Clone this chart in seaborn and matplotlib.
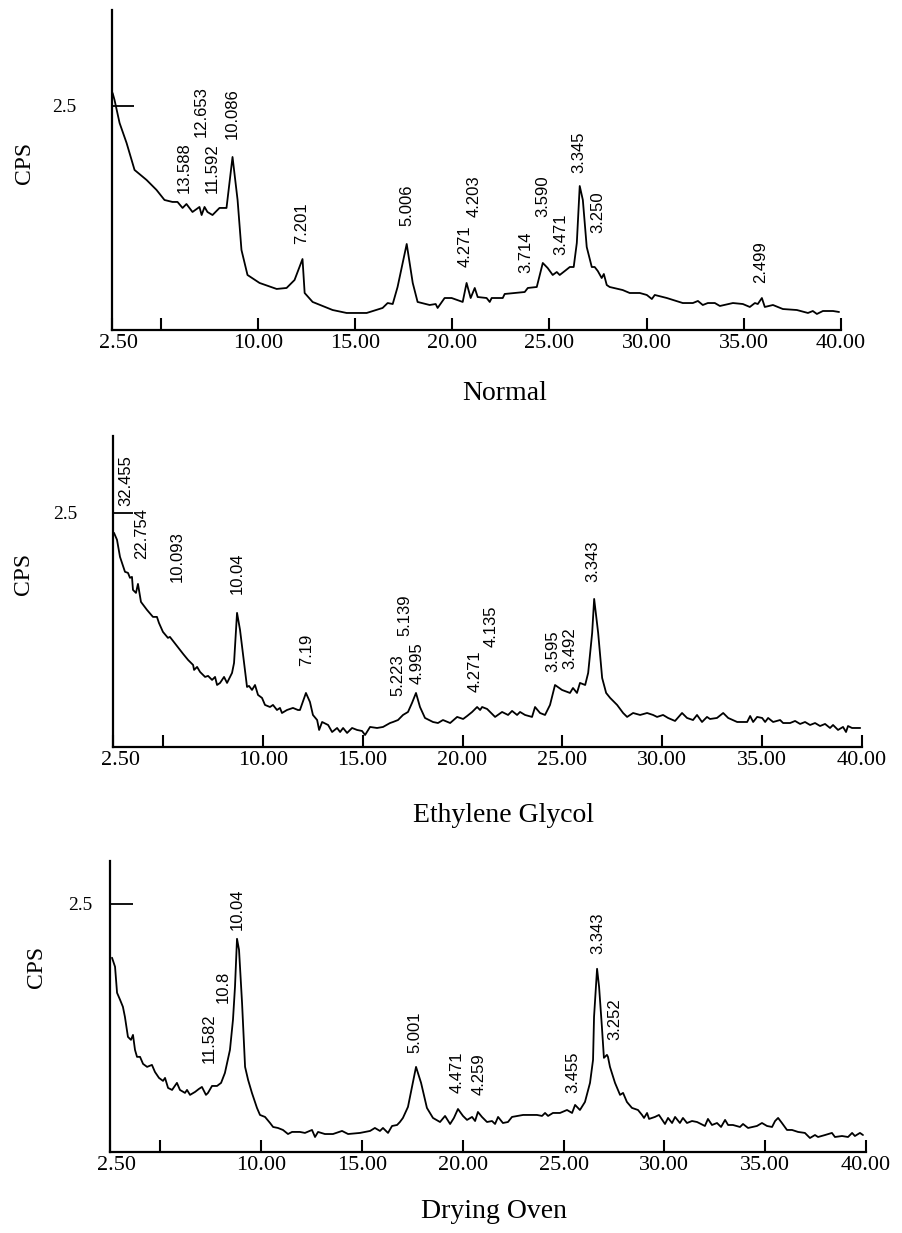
import matplotlib
matplotlib.use("Agg")
import matplotlib.pyplot as plt
import matplotlib.transforms as mtransforms
import pandas as pd
import seaborn as sns

# ---------------------------------------------------------------------------
# X-ray diffraction scans: 2-theta (degrees) vs. intensity (CPS)
# ---------------------------------------------------------------------------
normal_2theta = [
    2.53, 2.63, 2.89, 3.25, 3.66, 4.28, 4.79, 5.20, 5.61, 5.87, 6.13, 6.33, 6.64,
    7.00, 7.11, 7.26, 7.41, 7.67, 8.03, 8.39, 8.70, 8.96, 9.16, 9.47, 10.09, 10.97,
    11.48, 11.89, 12.30, 12.41, 12.82, 13.85, 14.57, 15.60, 16.42, 16.68, 16.94,
    17.19, 17.66, 17.97, 18.22, 18.84, 19.15, 19.25, 19.61, 19.97, 20.54, 20.74,
    20.95, 21.16, 21.31, 21.77, 21.93, 22.03, 22.60, 22.70, 23.73, 23.89, 24.35,
    24.66, 24.91, 25.17, 25.38, 25.53, 25.79, 26.05, 26.25, 26.41, 26.56, 26.72,
    26.92, 27.18, 27.33, 27.49, 27.69, 27.80, 27.95, 28.10, 28.77, 29.13, 29.65,
    30.01, 30.27, 30.42, 31.04, 31.86, 32.38, 32.64, 32.89, 33.15, 33.51, 33.77,
    34.44, 34.95, 35.31, 35.57, 35.72, 35.93, 36.08, 36.50, 37.01, 37.73, 38.30,
    38.55, 38.76, 39.07, 39.59, 39.90,
]
normal_cps = [
    2.645, 2.567, 2.310, 2.087, 1.786, 1.674, 1.563, 1.451, 1.429, 1.429, 1.362,
    1.406, 1.317, 1.373, 1.283, 1.373, 1.317, 1.283, 1.362, 1.362, 1.931, 1.451,
    0.893, 0.614, 0.525, 0.458, 0.469, 0.558, 0.792, 0.413, 0.313, 0.223, 0.190,
    0.190, 0.246, 0.301, 0.290, 0.480, 0.960, 0.525, 0.313, 0.279, 0.290, 0.246,
    0.357, 0.357, 0.313, 0.525, 0.357, 0.469, 0.368, 0.357, 0.313, 0.357, 0.357,
    0.402, 0.424, 0.469, 0.480, 0.748, 0.692, 0.614, 0.647, 0.614, 0.658, 0.703,
    0.703, 0.971, 1.607, 1.451, 0.926, 0.703, 0.703, 0.658, 0.580, 0.625, 0.502,
    0.480, 0.446, 0.413, 0.413, 0.391, 0.346, 0.391, 0.357, 0.301, 0.301, 0.324,
    0.279, 0.301, 0.301, 0.268, 0.301, 0.290, 0.257, 0.301, 0.290, 0.357, 0.257,
    0.279, 0.234, 0.223, 0.190, 0.212, 0.179, 0.212, 0.212, 0.201,
]

glycol_2theta = [
    2.55, 2.70, 2.85, 3.10, 3.25, 3.35, 3.45, 3.50, 3.65, 3.75, 3.90, 4.20, 4.50,
    4.70, 4.80, 5.00, 5.25, 5.35, 5.70, 6.01, 6.26, 6.41, 6.51, 6.56, 6.71, 6.86,
    7.11, 7.26, 7.46, 7.61, 7.71, 7.86, 8.06, 8.21, 8.46, 8.56, 8.71, 8.86, 9.06,
    9.21, 9.31, 9.46, 9.61, 9.76, 9.96, 10.11, 10.36, 10.51, 10.71, 10.86, 10.96,
    11.21, 11.51, 11.76, 11.86, 12.16, 12.36, 12.51, 12.72, 12.82, 12.97, 13.27,
    13.47, 13.72, 13.87, 14.02, 14.22, 14.47, 14.72, 14.97, 15.12, 15.37, 15.72,
    16.02, 16.37, 16.52, 16.77, 17.02, 17.27, 17.47, 17.67, 17.87, 18.12, 18.52,
    18.77, 19.02, 19.38, 19.73, 20.03, 20.23, 20.48, 20.73, 20.88, 20.98, 21.23,
    21.63, 21.98, 22.28, 22.48, 22.73, 22.88, 23.13, 23.48, 23.63, 23.88, 24.13,
    24.38, 24.63, 24.98, 25.38, 25.53, 25.73, 25.88, 26.14, 26.29, 26.49, 26.59,
    26.79, 26.99, 27.19, 27.39, 27.74, 28.04, 28.24, 28.54, 28.89, 29.24, 29.54,
    29.74, 30.04, 30.29, 30.64, 30.99, 31.24, 31.54, 31.74, 31.99, 32.24, 32.39,
    32.74, 33.05, 33.30, 33.75, 34.25, 34.40, 34.55, 34.75, 35.00, 35.15, 35.30,
    35.55, 35.90, 36.05, 36.40, 36.65, 36.90, 37.15, 37.40, 37.65, 37.90, 38.15,
    38.40, 38.55, 38.80, 39.05, 39.20, 39.30, 39.50, 39.91,
]
glycol_cps = [
    2.286, 2.212, 2.030, 1.870, 1.859, 1.806, 1.816, 1.677, 1.645, 1.741, 1.549,
    1.464, 1.389, 1.389, 1.325, 1.229, 1.165, 1.175, 1.079, 0.994, 0.929, 0.897,
    0.876, 0.823, 0.855, 0.801, 0.748, 0.759, 0.716, 0.748, 0.662, 0.684, 0.748,
    0.684, 0.791, 0.897, 1.432, 1.250, 0.897, 0.641, 0.652, 0.609, 0.662, 0.556,
    0.524, 0.449, 0.427, 0.449, 0.395, 0.417, 0.363, 0.395, 0.417, 0.395, 0.395,
    0.577, 0.481, 0.342, 0.288, 0.182, 0.267, 0.235, 0.160, 0.203, 0.160, 0.203,
    0.150, 0.203, 0.182, 0.171, 0.128, 0.214, 0.203, 0.214, 0.256, 0.267, 0.288,
    0.342, 0.374, 0.470, 0.577, 0.427, 0.310, 0.267, 0.256, 0.288, 0.256, 0.321,
    0.299, 0.331, 0.374, 0.427, 0.395, 0.427, 0.406, 0.321, 0.374, 0.342, 0.385,
    0.342, 0.374, 0.342, 0.321, 0.427, 0.363, 0.342, 0.449, 0.662, 0.609, 0.577,
    0.630, 0.577, 0.684, 0.662, 0.791, 1.218, 1.581, 1.218, 0.737, 0.577, 0.524,
    0.449, 0.363, 0.321, 0.363, 0.342, 0.363, 0.342, 0.321, 0.342, 0.310, 0.278,
    0.363, 0.310, 0.288, 0.342, 0.267, 0.321, 0.299, 0.310, 0.363, 0.310, 0.267,
    0.267, 0.331, 0.267, 0.321, 0.310, 0.267, 0.310, 0.267, 0.288, 0.256, 0.256,
    0.278, 0.246, 0.267, 0.235, 0.256, 0.224, 0.246, 0.203, 0.235, 0.182, 0.214,
    0.160, 0.224, 0.203, 0.203,
]

oven_2theta = [
    2.60, 2.75, 2.85, 3.00, 3.14, 3.24, 3.39, 3.54, 3.64, 3.74, 3.84, 3.99, 4.14,
    4.34, 4.58, 4.73, 4.93, 5.13, 5.23, 5.38, 5.58, 5.82, 5.97, 6.22, 6.32, 6.47,
    6.72, 6.91, 7.06, 7.26, 7.36, 7.56, 7.81, 8.01, 8.20, 8.45, 8.60, 8.70, 8.80,
    8.90, 9.05, 9.20, 9.35, 9.54, 9.79, 9.94, 10.19, 10.44, 10.59, 10.83, 11.08,
    11.33, 11.53, 11.78, 11.92, 12.17, 12.52, 12.67, 12.82, 13.16, 13.56, 14.01,
    14.31, 14.90, 15.40, 15.64, 15.89, 16.04, 16.29, 16.49, 16.74, 16.88, 17.03,
    17.28, 17.48, 17.68, 17.93, 18.22, 18.52, 18.87, 19.12, 19.37, 19.56, 19.76,
    20.01, 20.21, 20.46, 20.61, 20.75, 20.95, 21.20, 21.45, 21.60, 21.75, 21.99,
    22.24, 22.44, 22.99, 23.68, 23.93, 24.08, 24.23, 24.47, 24.82, 25.17, 25.42,
    25.57, 25.81, 26.06, 26.31, 26.46, 26.51, 26.66, 26.76, 26.90, 27.00, 27.15,
    27.20, 27.30, 27.55, 27.80, 27.95, 28.14, 28.39, 28.69, 28.89, 28.99, 29.14,
    29.24, 29.53, 29.73, 29.93, 30.03, 30.18, 30.38, 30.53, 30.77, 30.92, 31.12,
    31.37, 31.62, 32.01, 32.16, 32.36, 32.61, 32.81, 33.01, 33.16, 33.40, 33.75,
    33.90, 34.15, 34.59, 34.84, 35.09, 35.34, 35.49, 35.64, 35.83, 36.08, 36.33,
    36.63, 36.97, 37.22, 37.47, 37.62, 37.97, 38.31, 38.46, 38.81, 39.11, 39.31,
    39.45, 39.70, 39.85,
]
oven_cps = [
    1.956, 1.865, 1.603, 1.532, 1.462, 1.361, 1.159, 1.129, 1.179, 1.028, 0.958,
    0.958, 0.887, 0.857, 0.877, 0.806, 0.746, 0.716, 0.746, 0.645, 0.625, 0.696,
    0.625, 0.595, 0.625, 0.575, 0.605, 0.635, 0.655, 0.575, 0.595, 0.665, 0.665,
    0.696, 0.796, 1.028, 1.331, 1.663, 2.147, 2.036, 1.502, 0.857, 0.726, 0.595,
    0.444, 0.373, 0.353, 0.292, 0.252, 0.242, 0.222, 0.181, 0.202, 0.202, 0.202,
    0.192, 0.222, 0.151, 0.202, 0.181, 0.181, 0.212, 0.181, 0.192, 0.212, 0.242,
    0.212, 0.242, 0.192, 0.262, 0.272, 0.302, 0.343, 0.454, 0.655, 0.857, 0.696,
    0.444, 0.343, 0.302, 0.363, 0.282, 0.343, 0.433, 0.363, 0.323, 0.353, 0.312,
    0.403, 0.353, 0.302, 0.312, 0.282, 0.353, 0.292, 0.302, 0.353, 0.373, 0.373,
    0.363, 0.393, 0.363, 0.393, 0.393, 0.423, 0.393, 0.474, 0.423, 0.504, 0.696,
    0.927, 1.361, 1.845, 1.663, 1.260, 0.948, 0.978, 0.958, 0.857, 0.696, 0.575,
    0.595, 0.504, 0.444, 0.423, 0.373, 0.343, 0.393, 0.333, 0.353, 0.373, 0.312,
    0.282, 0.343, 0.292, 0.353, 0.292, 0.343, 0.292, 0.312, 0.302, 0.262, 0.333,
    0.272, 0.292, 0.252, 0.323, 0.272, 0.272, 0.252, 0.282, 0.242, 0.262, 0.292,
    0.262, 0.252, 0.312, 0.343, 0.292, 0.222, 0.222, 0.202, 0.192, 0.141, 0.171,
    0.151, 0.171, 0.192, 0.151, 0.161, 0.151, 0.192, 0.161, 0.192, 0.171,
]

# d-spacing annotations (Angstrom) and where each one is written (2-theta, CPS)
normal_d = ["13.588", "12.653", "11.592", "10.086", "7.201", "5.006", "4.271",
            "4.203", "3.714", "3.590", "3.471", "3.345", "3.250", "2.499"]
normal_d_x = [6.23, 7.11, 7.67, 8.70, 12.25, 17.66, 20.69, 21.11, 23.78, 24.66,
              25.58, 26.51, 27.49, 35.87]
normal_d_y = [1.53, 2.15, 1.53, 2.13, 0.96, 1.16, 0.70, 1.26, 0.64, 1.26, 0.84,
              1.75, 1.08, 0.52]

glycol_d = ["32.455", "22.754", "10.093", "10.04", "7.19", "5.223", "5.139",
            "4.995", "4.271", "4.135", "3.595", "3.492", "3.343"]
glycol_d_x = [3.15, 3.95, 5.70, 8.71, 12.21, 16.77, 17.12, 17.72, 20.63, 21.43,
              24.53, 25.38, 26.54]
glycol_d_y = [2.575, 2.009, 1.763, 1.635, 0.865, 0.545, 1.186, 0.673, 0.588, 1.068,
              0.801, 0.833, 1.763]

oven_d = ["11.582", "10.8", "10.04", "5.001", "4.471", "4.259", "3.455", "3.343",
          "3.252"]
oven_d_x = [7.41, 8.10, 8.80, 17.63, 19.71, 20.80, 25.47, 26.71, 27.55]
oven_d_y = [0.897, 1.502, 2.238, 0.998, 0.595, 0.575, 0.595, 1.996, 1.129]

titles = ["Normal", "Ethylene Glycol", "Drying Oven"]
x_ticks = [2.5, 5, 10, 15, 20, 25, 30, 35, 40]
x_tick_labels = ["2.50", "", "10.00", "15.00", "20.00", "25.00", "30.00",
                 "35.00", "40.00"]
y_ticks = [2.5]
y_tick_labels = ["2.5"]

# ---------------------------------------------------------------------------
sns.set_style("ticks")
plt.rcParams["font.family"] = ["Liberation Serif", "DejaVu Serif"]
plt.rcParams["text.color"] = "black"
plt.rcParams["axes.labelcolor"] = "black"

W, H, DPI = 902, 1233, 100
fig = plt.figure(figsize=(W / DPI, H / DPI), dpi=DPI)
fig.patch.set_facecolor("white")


def px_rect(x0, y0, x1, y1):
    """Axes rectangle from pixel box (left, top, right, bottom)."""
    return [x0 / W, 1 - y1 / H, (x1 - x0) / W, (y1 - y0) / H]


panels = [
    dict(x=normal_2theta, y=normal_cps, d=normal_d, dx=normal_d_x, dy=normal_d_y,
         rect=px_rect(112, 10, 841, 330), ytop=3.571, ytick_len=15.8, ypad=26,
         ylab_xy=(-0.1207, 0.522), title_xy=(0.539, -0.197)),
    dict(x=glycol_2theta, y=glycol_cps, d=glycol_d, dx=glycol_d_x, dy=glycol_d_y,
         rect=px_rect(113, 436, 862, 747), ytop=3.32, ytick_len=14.4, ypad=26,
         ylab_xy=(-0.119, 0.556), title_xy=(0.521, -0.219)),
    dict(x=oven_2theta, y=oven_cps, d=oven_d, dx=oven_d_x, dy=oven_d_y,
         rect=px_rect(110, 861, 866, 1152), ytop=2.93, ytick_len=16.6, ypad=13,
         ylab_xy=(-0.0966, 0.636), title_xy=(0.508, -0.206)),
]

for p, title in zip(panels, titles):
    ax = fig.add_axes(p["rect"])
    df = pd.DataFrame({"two_theta": p["x"], "cps": p["y"]})
    sns.lineplot(data=df, x="two_theta", y="cps", ax=ax, color="black",
                 linewidth=1.3, estimator=None, sort=False)

    ax.set_xlim(2.5, 40)
    ax.set_ylim(0, p["ytop"])
    ax.set_facecolor("white")
    for side in ("top", "right"):
        ax.spines[side].set_visible(False)
    for side in ("left", "bottom"):
        ax.spines[side].set_linewidth(1.6)
        ax.spines[side].set_color("black")

    ax.set_xticks(x_ticks)
    ax.set_xticklabels(x_tick_labels)
    ax.set_yticks(y_ticks)
    ax.set_yticklabels(y_tick_labels)
    ax.tick_params(axis="x", direction="in", length=9, width=1.5, pad=3,
                   labelsize=16, colors="black")
    ax.tick_params(axis="y", direction="in", length=p["ytick_len"], width=1.3,
                   pad=p["ypad"], labelsize=14, colors="black")

    # nudge the first tick label clear of the vertical axis
    first = ax.get_xticklabels()[0]
    first.set_transform(first.get_transform()
                        + mtransforms.ScaledTranslation(7 / DPI, 0, fig.dpi_scale_trans))

    ax.set_ylabel("CPS", fontsize=17, color="black")
    ax.yaxis.set_label_coords(*p["ylab_xy"])
    ax.yaxis.label.set_va("center")
    ax.set_xlabel(title, fontsize=20, color="black")
    ax.xaxis.set_label_coords(*p["title_xy"])
    ax.xaxis.label.set_va("center")

    for txt, tx, ty in zip(p["d"], p["dx"], p["dy"]):
        ax.text(tx, ty, txt, rotation=90, ha="center", va="bottom", fontsize=12,
                family=["Liberation Sans", "DejaVu Sans"], color="black")

fig.savefig("out.png", dpi=DPI, facecolor="white")
